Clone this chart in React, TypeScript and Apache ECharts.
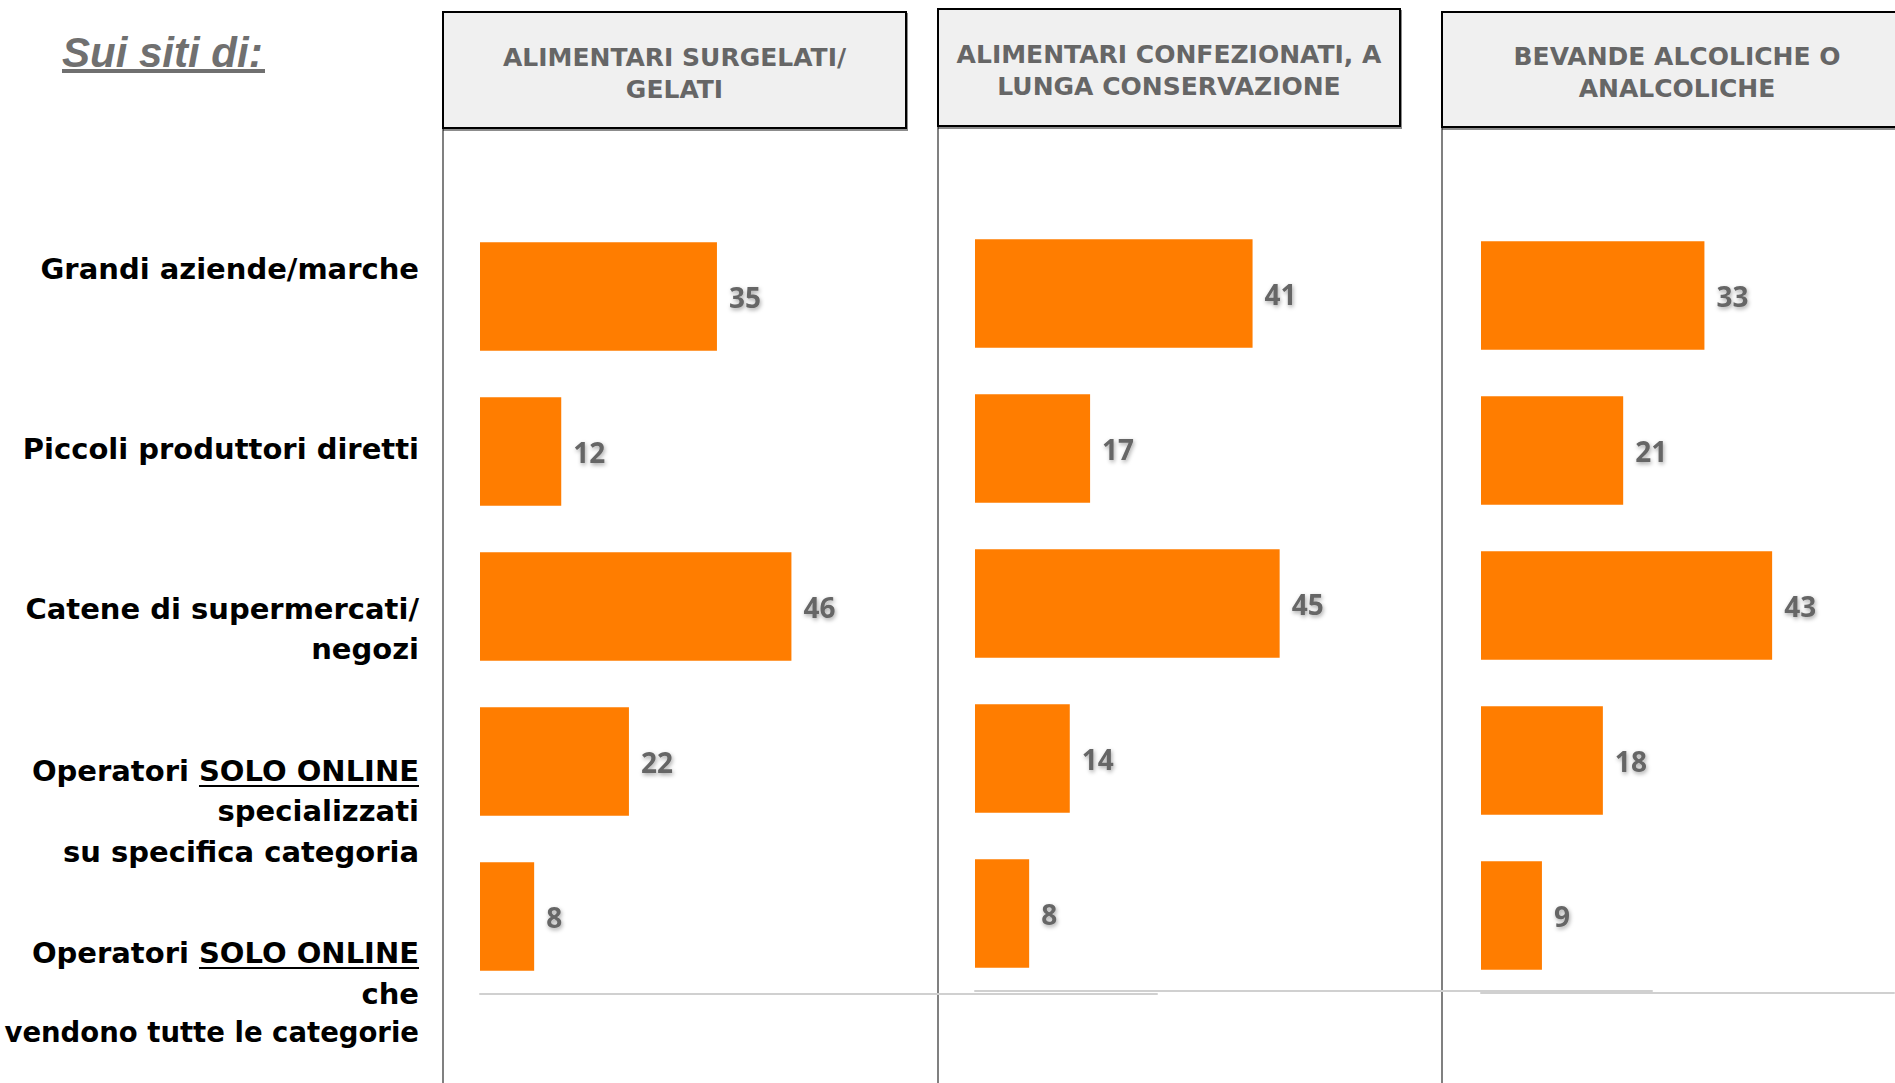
import React, { useEffect, useRef } from "react";
import * as echarts from "echarts";

const categories = [
  "Grandi aziende/marche",
  "Piccoli produttori diretti",
  "Catene di supermercati/negozi",
  "Operatori SOLO ONLINE specializzati su specifica categoria",
  "Operatori SOLO ONLINE che vendono tutte le categorie",
];

const panelTitles = [
  ["ALIMENTARI SURGELATI/", "GELATI"],
  ["ALIMENTARI CONFEZIONATI, A", "LUNGA CONSERVAZIONE"],
  ["BEVANDE ALCOLICHE O", "ANALCOLICHE"],
];

const surgelati = [35, 12, 46, 22, 8];
const confezionati = [41, 17, 45, 14, 8];
const bevande = [33, 21, 43, 18, 9];

// label lines per category: t = plain text, u = underlined suffix
const rowLabelLines = [
  [{ t: "Grandi aziende/marche" }],
  [{ t: "Piccoli produttori diretti" }],
  [{ t: "Catene di supermercati/" }, { t: "negozi" }],
  [{ t: "Operatori ", u: "SOLO ONLINE" }, { t: "specializzati" }, { t: "su specifica categoria" }],
  [{ t: "Operatori ", u: "SOLO ONLINE" }, { t: "che" }, { t: "vendono tutte le categorie" }],
];

const titleText = "Sui siti di:";

// layout
const labelBaselines = [[280], [460], [620, 660], [782, 822, 863], [964, 1005, 1043]];
const panels = [
  { box: [443, 12, 463, 116], gridLeft: 480, gridTop: 219, width: 677, max: 100, lineX: 443 },
  { box: [938, 9, 462, 117], gridLeft: 975, gridTop: 216, width: 677, max: 100, lineX: 938 },
  { box: [1442, 12, 470, 115], gridLeft: 1481, gridTop: 218, width: 413, max: 61, lineX: 1442 },
];
const panelData = [surgelati, confezionati, bevande];

const LABEL_FONT_SIZE = 29;
const LABEL_FONT_FAMILY = "'DejaVu Sans', sans-serif";
const LABEL_RIGHT = 419;

function measure(text: string, font: string) {
  const c = document.createElement("canvas").getContext("2d");
  if (!c) return text.length * 18;
  c.font = font;
  return c.measureText(text).width;
}

export default function App() {
  const ref = useRef<HTMLDivElement>(null);

  useEffect(() => {
    document.body.style.margin = "0";
    if (!ref.current) return;
    const chart = echarts.init(ref.current, undefined, { renderer: "svg" });

    const graphics: any[] = [];

    // title
    graphics.push({
      type: "text",
      x: 62,
      y: 52,
      style: {
        text: titleText,
        fill: "#707070",
        font: "italic bold 42px 'Liberation Sans', Arial, sans-serif",
        verticalAlign: "middle",
        align: "left",
      },
    });
    graphics.push({
      type: "rect",
      shape: { x: 62, y: 69, width: 203, height: 4 },
      style: { fill: "#707070" },
    });

    // panels
    panels.forEach((p, i) => {
      const [bx, by, bw, bh] = p.box;
      graphics.push({
        type: "line",
        shape: { x1: p.lineX, y1: by + bh, x2: p.lineX, y2: 1083 },
        style: { stroke: "#808080", lineWidth: 2 },
      });
      graphics.push({
        type: "rect",
        shape: { x: bx, y: by, width: bw, height: bh },
        style: {
          fill: "#f0f0f0",
          stroke: "#000",
          lineWidth: 2,
          shadowColor: "rgba(0,0,0,0.45)",
          shadowOffsetX: 1,
          shadowOffsetY: 2,
          shadowBlur: 1,
        },
      });
      const cx = bx + bw / 2;
      const cy = by + bh / 2;
      panelTitles[i].forEach((line, j) => {
        graphics.push({
          type: "text",
          x: cx,
          y: cy + (j === 0 ? -13 : 19),
          style: {
            text: line,
            fill: "#666666",
            font: "bold 25px 'DejaVu Sans', Verdana, sans-serif",
            align: "center",
            verticalAlign: "middle",
          },
        });
      });
    });

    // row labels
    const baseFont = `bold ${LABEL_FONT_SIZE}px ${LABEL_FONT_FAMILY}`;
    const mid = (b: number) => b - 11;
    rowLabelLines.forEach((lines, i) => {
      lines.forEach((ln: any, j: number) => {
        const base = labelBaselines[i][j];
        const ty = mid(base);
        if (ln.u) {
          const font = baseFont;
          const uw = measure(ln.u, font);
          graphics.push({
            type: "text",
            x: LABEL_RIGHT,
            y: ty,
            style: { text: ln.u, fill: "#000", font, align: "right", verticalAlign: "middle" },
          });
          graphics.push({
            type: "text",
            x: LABEL_RIGHT - uw,
            y: ty,
            style: { text: ln.t, fill: "#000", font, align: "right", verticalAlign: "middle" },
          });
          graphics.push({
            type: "rect",
            shape: { x: LABEL_RIGHT - uw, y: base + 3, width: uw, height: 2 },
            style: { fill: "#000" },
          });
        } else {
          // shrink a line slightly if it would run past the left edge
          let size = LABEL_FONT_SIZE;
          const w = measure(ln.t, baseFont);
          const avail = LABEL_RIGHT - 3;
          if (w > avail) size = Math.floor((LABEL_FONT_SIZE * avail) / w * 10) / 10;
          const font = `bold ${size}px ${LABEL_FONT_FAMILY}`;
          graphics.push({
            type: "text",
            x: LABEL_RIGHT,
            y: ty,
            style: { text: ln.t, fill: "#000", font, align: "right", verticalAlign: "middle" },
          });
        }
      });
    });

    const grids = panels.map((p) => ({
      left: p.gridLeft,
      top: p.gridTop,
      width: p.width,
      height: 775,
      containLabel: false,
    }));

    const xAxes = panels.map((p, i) => ({
      type: "value",
      gridIndex: i,
      min: 0,
      max: p.max,
      axisLine: { show: true, lineStyle: { color: "#d0d0d0", width: 2 } },
      axisTick: { show: false },
      axisLabel: { show: false },
      splitLine: { show: false },
    }));

    const yAxes = panels.map((_, i) => ({
      type: "category",
      gridIndex: i,
      data: categories,
      inverse: true,
      axisLine: { show: false },
      axisTick: { show: false },
      axisLabel: { show: false },
      splitLine: { show: false },
    }));

    const series = panels.map((_, i) => ({
      type: "bar",
      xAxisIndex: i,
      yAxisIndex: i,
      data: panelData[i],
      barWidth: "70%",
      itemStyle: { color: "#FF7D00" },
      label: {
        show: true,
        position: "right",
        distance: 12,
        color: "#666666",
        fontFamily: "'Open Sans', sans-serif",
        fontWeight: "bold",
        fontSize: 28,
        textShadowColor: "rgba(0,0,0,0.35)",
        textShadowBlur: 4,
        textShadowOffsetX: 1,
        textShadowOffsetY: 2,
      },
    }));

    chart.setOption({
      animation: false,
      backgroundColor: "#ffffff",
      grid: grids,
      xAxis: xAxes,
      yAxis: yAxes,
      series,
      graphic: { elements: graphics },
    });

    return () => chart.dispose();
  }, []);

  return <div ref={ref} style={{ width: 1895, height: 1083, overflow: "hidden" }} />;
}
